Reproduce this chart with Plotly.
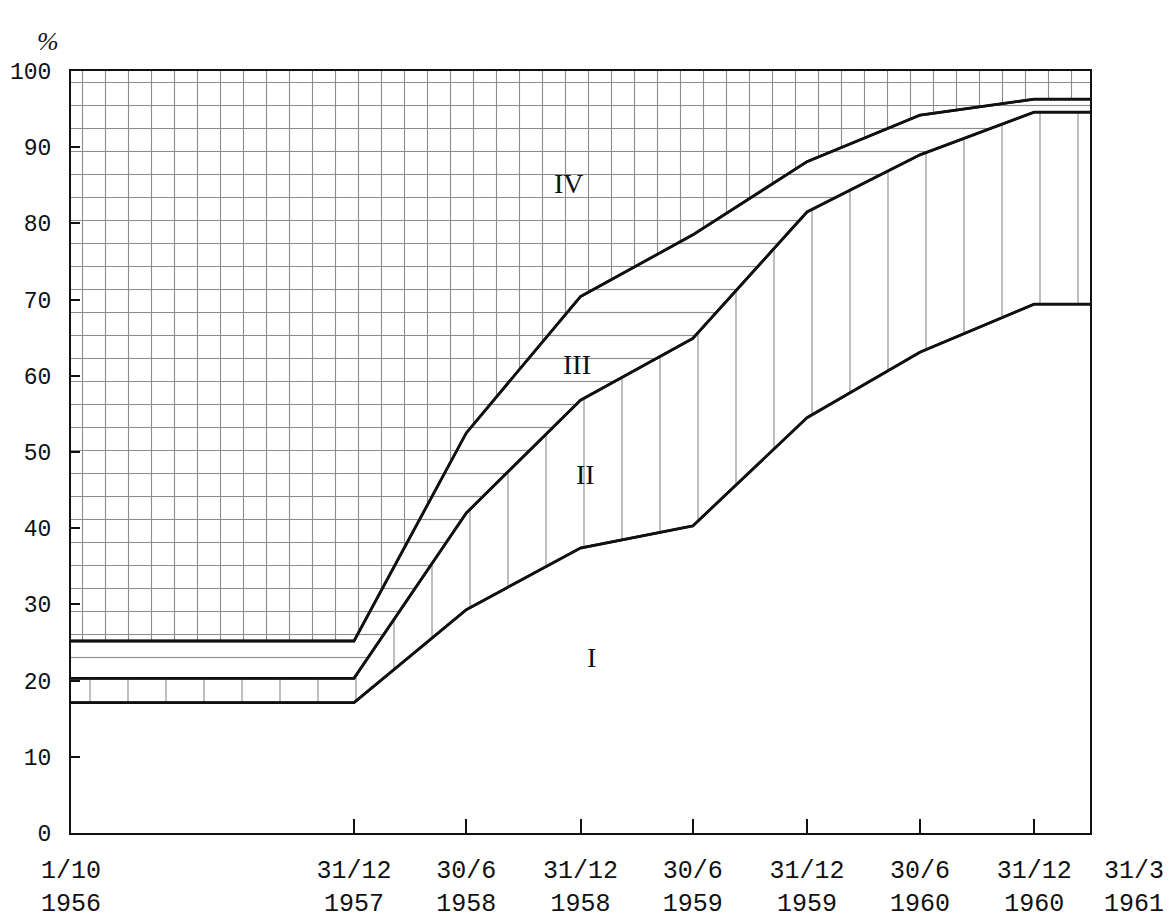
import plotly.graph_objects as go

# x positions (dates of the observations)
dates = ["1956-10-01", "1957-12-31", "1958-06-30", "1958-12-31", "1959-06-30",
         "1959-12-31", "1960-06-30", "1960-12-31", "1961-03-31"]

# cumulative upper boundaries of the bands, in %
band_I = [17.1, 17.1, 29.3, 37.4, 40.3, 54.5, 63.1, 69.4, 69.4]
band_II = [20.3, 20.3, 42.0, 56.8, 64.9, 81.5, 89.0, 94.6, 94.6]
band_III = [25.2, 25.2, 52.5, 70.4, 78.5, 88.1, 94.2, 96.3, 96.3]
band_IV = [100, 100, 100, 100, 100, 100, 100, 100, 100]

# tick labels
tick_dates = dates[:-1]
tick_text = ["1/10<br>1956", "31/12<br>1957", "30/6<br>1958", "31/12<br>1958",
             "30/6<br>1959", "31/12<br>1959", "30/6<br>1960", "31/12<br>1960"]
last_label = "31/3<br>1961"

band_labels = ["I", "II", "III", "IV"]
label_dates = ["1959-01-18", "1959-01-08", "1958-12-25", "1958-12-12"]
label_values = [23.0, 47.0, 61.5, 85.2]

INK = "#111111"
HATCH = "#1a1a1a"
MONO = "Liberation Mono"
SERIF = "Liberation Serif"

fig = go.Figure()

fig.add_trace(go.Scatter(x=dates, y=band_I, mode="lines",
                         line=dict(color=INK, width=2.5), showlegend=False))
fig.add_trace(go.Scatter(x=dates, y=band_II, mode="lines", fill="tonexty",
                         fillcolor="white",
                         fillpattern=dict(shape="|", size=38, solidity=0.03,
                                          fgcolor=HATCH, bgcolor="white"),
                         line=dict(color=INK, width=2.5), showlegend=False))
fig.add_trace(go.Scatter(x=dates, y=band_III, mode="lines", fill="tonexty",
                         fillcolor="white",
                         fillpattern=dict(shape="-", size=23, solidity=0.05,
                                          fgcolor=HATCH, bgcolor="white"),
                         line=dict(color=INK, width=2.5), showlegend=False))
fig.add_trace(go.Scatter(x=dates, y=band_IV, mode="lines", fill="tonexty",
                         fillcolor="white",
                         fillpattern=dict(shape="+", size=23, solidity=0.095,
                                          fgcolor=HATCH, bgcolor="white"),
                         line=dict(color=INK, width=0), showlegend=False))

# boundary lines drawn again on top of the hatching
for arr in (band_I, band_II, band_III):
    fig.add_trace(go.Scatter(x=dates, y=arr, mode="lines",
                             line=dict(color=INK, width=2.8), showlegend=False,
                             hoverinfo="skip"))

for txt, xd, yv in zip(band_labels, label_dates, label_values):
    fig.add_annotation(x=xd, y=yv, text=txt, showarrow=False,
                       font=dict(family=SERIF, size=28, color=INK))

fig.add_annotation(x=dates[-1], y=0, yref="paper", text=last_label,
                   showarrow=False, xanchor="center", yanchor="top",
                   xshift=44, yshift=-22, align="center",
                   font=dict(family=MONO, size=25, color=INK))

fig.add_annotation(x=-0.035, y=1.06, xref="paper", yref="paper", text="<i>%</i>",
                   showarrow=False, font=dict(family=SERIF, size=26, color=INK))

fig.update_xaxes(type="date", range=[dates[0], dates[-1]],
                 tickvals=tick_dates, ticktext=tick_text,
                 ticks="inside", ticklen=14, tickwidth=1.5, tickcolor=INK,
                 showgrid=False, zeroline=False, automargin=False,
                 showline=True, linecolor=INK, linewidth=2, mirror=True,
                 tickfont=dict(family=MONO, size=25, color=INK),
                 ticklabelstandoff=13)
fig.update_yaxes(range=[0, 100], dtick=10, ticks="inside", ticklen=9,
                 tickwidth=1.5, tickcolor=INK,
                 showgrid=False, zeroline=False, automargin=False,
                 showline=True, linecolor=INK, linewidth=2, mirror=True,
                 tickfont=dict(family=MONO, size=23, color=INK),
                 ticklabelstandoff=13)

fig.update_layout(width=1163, height=909,
                  margin=dict(l=63, r=81, t=63, b=84),
                  paper_bgcolor="white", plot_bgcolor="white",
                  showlegend=False)

fig.write_html("out.html")
